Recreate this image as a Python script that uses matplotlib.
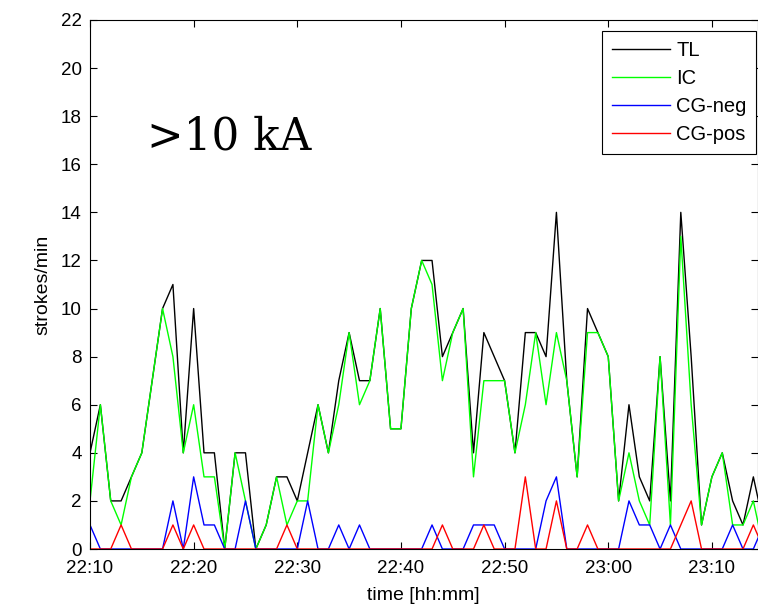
import numpy as np
import matplotlib
matplotlib.use('Agg')
import matplotlib.pyplot as plt

# minutes after 22:10, one sample per minute
minutes = np.arange(0, 66)

TL = [4, 6, 2, 2, 3, 4, 7, 10, 11, 4,
      10, 4, 4, 0, 4, 4, 0, 1, 3, 3,
      2, 4, 6, 4, 7, 9, 7, 7, 10, 5,
      5, 10, 12, 12, 8, 9, 10, 4, 9, 8,
      7, 4, 9, 9, 8, 14, 7, 3, 10, 9,
      8, 2, 6, 3, 2, 8, 2, 14, 8, 1,
      3, 4, 2, 1, 3, 1]
IC = [2, 6, 2, 1, 3, 4, 7, 10, 8, 4,
      6, 3, 3, 0, 4, 2, 0, 1, 3, 1,
      2, 2, 6, 4, 6, 9, 6, 7, 10, 5,
      5, 10, 12, 11, 7, 9, 10, 3, 7, 7,
      7, 4, 6, 9, 6, 9, 7, 3, 9, 9,
      8, 2, 4, 2, 1, 8, 1, 13, 6, 1,
      3, 4, 1, 1, 2, 0]
CG_neg = [1, 0, 0, 0, 0, 0, 0, 0, 2, 0,
          3, 1, 1, 0, 0, 2, 0, 0, 0, 0,
          0, 2, 0, 0, 1, 0, 1, 0, 0, 0,
          0, 0, 0, 1, 0, 0, 0, 1, 1, 1,
          0, 0, 0, 0, 2, 3, 0, 0, 0, 0,
          0, 0, 2, 1, 1, 0, 1, 0, 0, 0,
          0, 0, 1, 0, 0, 1]
CG_pos = [0, 0, 0, 1, 0, 0, 0, 0, 1, 0,
          1, 0, 0, 0, 0, 0, 0, 0, 0, 1,
          0, 0, 0, 0, 0, 0, 0, 0, 0, 0,
          0, 0, 0, 0, 1, 0, 0, 0, 1, 0,
          0, 0, 3, 0, 0, 2, 0, 0, 1, 0,
          0, 0, 0, 0, 0, 0, 0, 1, 2, 0,
          0, 0, 0, 0, 1, 0]

tick_pos = [0, 10, 20, 30, 40, 50, 60]
tick_lab = ['22:10', '22:20', '22:30', '22:40', '22:50', '23:00', '23:10']

plt.rcParams['font.family'] = ['Liberation Sans', 'DejaVu Sans']

fig = plt.figure(figsize=(7.58, 6.06), dpi=100)
ax = fig.add_axes([90/758, 57/606, 667.5/758, 529/606])

ax.plot(minutes, TL, color='k', linewidth=1.0, label='TL')
ax.plot(minutes, IC, color=(0, 1, 0), linewidth=1.0, label='IC')
ax.plot(minutes, CG_neg, color=(0, 0, 1), linewidth=1.0, label='CG-neg')
ax.plot(minutes, CG_pos, color=(1, 0, 0), linewidth=1.0, label='CG-pos')

ax.set_xlim(0, 64.4)
ax.set_ylim(0, 22)
ax.set_yticks(range(0, 23, 2))
ax.set_xticks(tick_pos)
ax.set_xticklabels(tick_lab)
ax.tick_params(direction='in', top=True, right=True, length=5, width=0.8,
               labelsize=13.5, colors='k')
ax.tick_params(axis='x', pad=8)
ax.tick_params(axis='y', pad=6)
for s in ax.spines.values():
    s.set_linewidth(0.8)

ax.set_xlabel('time [hh:mm]', fontsize=14, labelpad=7)
ax.set_ylabel('strokes/min', fontsize=14, labelpad=7)

ax.text(0.086, 0.756, '>10 kA', transform=ax.transAxes, fontsize=31.5,
        family='DejaVu Serif', ha='left', va='baseline')

leg = ax.legend(loc='upper right', bbox_to_anchor=(0.9985, 0.979),
                borderaxespad=0, fancybox=False, edgecolor='k', framealpha=1,
                fontsize=14.5, handlelength=2.9, handletextpad=0.3,
                labelspacing=0.45, borderpad=0.5)
leg.get_frame().set_linewidth(0.8)

fig.savefig('out.png', dpi=100)
